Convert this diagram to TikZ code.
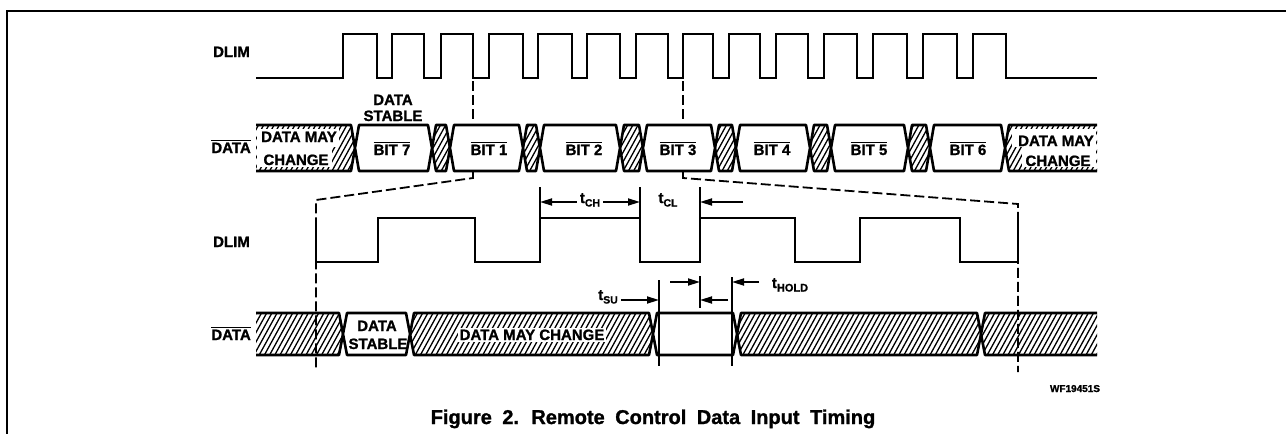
\documentclass[tikz,border=0pt]{standalone}
\usepackage{fontspec}
\setmainfont{Liberation Sans}[BoldFeatures={FakeBold=1.2}]
\usetikzlibrary{arrows.meta}
\newcommand\slnt{4}
\newcommand\ovl[1]{\setbox0\hbox{#1}\rlap{\rule[\dimexpr\ht0+1.6pt\relax]{\wd0}{1.4pt}}\box0}
\newcommand\tsb[2]{t\raisebox{-3.5pt}{\fontsize{#2}{#2}\selectfont #1}}
\newcommand\hexp[4]{({#1},{(#3+#4)/2}) -- ({#1+\slnt},#3) -- ({#2-\slnt},#3) -- ({#2},{(#3+#4)/2}) -- ({#2-\slnt},#4) -- ({#1+\slnt},#4) -- cycle}
\newcommand\hatchall[2]{\foreach \hx in {150,155.2,...,1110}{\draw[hatchline] (\hx,#2) -- ++({0.55*(#2-#1)},{#1-#2});}}
\newcommand\chg[4]{\begin{scope}\clip \hexp{#1}{#2}{#3}{#4};\hatchall{#3}{#4}\end{scope}\draw[band] \hexp{#1}{#2}{#3}{#4};}
\newcommand\stb[4]{\filldraw[band,fill=white] \hexp{#1}{#2}{#3}{#4};}
\newcommand\chgL[4]{\begin{scope}\clip (#1,#3) -- ({#2-\slnt},#3) -- (#2,{(#3+#4)/2}) -- ({#2-\slnt},#4) -- (#1,#4) -- cycle;\hatchall{#3}{#4}\end{scope}\draw[band] (#1,#3) -- ({#2-\slnt},#3) -- (#2,{(#3+#4)/2}) -- ({#2-\slnt},#4) -- (#1,#4);}
\newcommand\chgR[4]{\begin{scope}\clip (#2,#3) -- ({#1+\slnt},#3) -- (#1,{(#3+#4)/2}) -- ({#1+\slnt},#4) -- (#2,#4) -- cycle;\hatchall{#3}{#4}\end{scope}\draw[band] (#2,#3) -- ({#1+\slnt},#3) -- (#1,{(#3+#4)/2}) -- ({#1+\slnt},#4) -- (#2,#4);}
\begin{document}
\begin{tikzpicture}[x=1pt,y=-1pt,font=\fontsize{15}{16}\selectfont\bfseries,
  wave/.style={line width=2.8pt,line join=miter},
  band/.style={line width=2.6pt,line join=round},
  hatchline/.style={line width=1.3pt},
  zoomline/.style={line width=1.8pt,dash pattern=on 10pt off 4pt},
  tick/.style={line width=1.6pt},
  dimarrow/.style={line width=1.7pt,-{Triangle[length=12pt,width=7pt]}},
  lbl/.style={inner sep=0pt,anchor=base}]
\useasboundingbox (0,0) rectangle (1286,434);
% frame
\draw[line width=2pt] (7,434) -- (7,11) -- (1286,11);

% ---------- top DLIM ----------
\draw[wave] (256,78) \foreach \r/\f in {343/377,392/424,441/473,489/523,538/572,587/620,636/668,683/713,729/760,776/808,824/857,873/907,923/957,973/1006}{ -- (\r,78) -- (\r,34) -- (\f,34) -- (\f,78)} -- (1097,78);

% ---------- top DATA band ----------
\def\yt{125}\def\yb{171}
\chgL{256}{355}{\yt}{\yb}
\chg{432}{450}{\yt}{\yb}
\chg{523}{540}{\yt}{\yb}
\chg{620}{643}{\yt}{\yb}
\chg{715}{736}{\yt}{\yb}
\chg{810}{831}{\yt}{\yb}
\chg{908}{930}{\yt}{\yb}
\chgR{1005}{1097}{\yt}{\yb}
\stb{355}{432}{\yt}{\yb}
\stb{450}{523}{\yt}{\yb}
\stb{540}{620}{\yt}{\yb}
\stb{643}{715}{\yt}{\yb}
\stb{736}{810}{\yt}{\yb}
\stb{831}{908}{\yt}{\yb}
\stb{930}{1005}{\yt}{\yb}
\fill[white] (257,129) rectangle (339,147);
\fill[white] (257,147) rectangle (332,167);
\fill[white] (1012,129) rectangle (1096,147);
\fill[white] (1022,147) rectangle (1096,167);

\node[lbl] (dmcLa) at (299,142) {DATA MAY};
\node[lbl] (dmcLb) at (296,165) {CHANGE};
\node[lbl] (dmcRa) at (1056,146) {DATA MAY};
\node[lbl] (dmcRb) at (1058,166) {CHANGE};
\node[lbl] (dsA) at (393,105) {DATA};
\node[lbl] (dsB) at (393,121) {STABLE};
\node[lbl] (b7) at (392,155) {\ovl{BIT 7}};
\node[lbl] (b1) at (489,155) {\ovl{BIT 1}};
\node[lbl] (b2) at (584,155) {\ovl{BIT 2}};
\node[lbl] (b3) at (678,155) {\ovl{BIT 3}};
\node[lbl] (b4) at (772,155) {\ovl{BIT 4}};
\node[lbl] (b5) at (869,155) {\ovl{BIT 5}};
\node[lbl] (b6) at (968,155) {\ovl{BIT 6}};

\node[lbl,anchor=base east] (dlimA) at (250,57) {DLIM};
\node[lbl,anchor=base east] (dataA) at (251,153) {\ovl{DATA}};

% ---------- zoom lines ----------
\draw[zoomline] (473,81) -- (473,122);
\draw[zoomline] (683,81) -- (683,122);
\draw[zoomline] (473,172) -- (473,178) -- (316,200) -- (316,368);
\draw[zoomline] (683,172) -- (683,178) -- (1018,204) -- (1018,372);

% ---------- bottom DLIM ----------
\draw[wave] (316,218) -- (316,262) -- (378,262) -- (378,218) -- (475,218) -- (475,262) -- (540,262) -- (540,218) -- (640,218) -- (640,262) -- (700,262) -- (700,218) -- (795,218) -- (795,262) -- (860,262) -- (860,218) -- (960,218) -- (960,262) -- (1018,262) -- (1018,218);
\node[lbl,anchor=base east] (dlimB) at (250,247) {DLIM};

% tCH / tCL
\draw[tick] (540,187) -- (540,218);
\draw[tick] (640,187) -- (640,218);
\draw[tick] (700,187) -- (700,218);
\coordinate (chL) at (540,202);
\coordinate (chR) at (640,202);
\coordinate (clR) at (700,202);
\coordinate (clS) at (743,202);
\node[lbl,inner xsep=3pt] (tch) at (590,203) {\tsb{CH}{10.5}};
\node[lbl] (tcl) at (668,203) {\tsb{CL}{10.5}};
\draw[dimarrow] (tch.west |- chL) -- (chL);
\draw[dimarrow] (tch.east |- chR) -- (chR);
\draw[dimarrow] (clS) -- (clR);

% ---------- bottom DATA band ----------
\def\ytb{313}\def\ybb{355}
\chgL{256}{343}{\ytb}{\ybb}
\chg{410}{653}{\ytb}{\ybb}
\chg{737}{981}{\ytb}{\ybb}
\chgR{981}{1097}{\ytb}{\ybb}
\stb{343}{410}{\ytb}{\ybb}
\stb{653}{737}{\ytb}{\ybb}
\node[lbl,fill=white,inner sep=2pt] (dmcB) at (532,340) {DATA MAY CHANGE};
\node[lbl] (dsC) at (377,331) {DATA};
\node[lbl] (dsD) at (378,349) {STABLE};
\node[lbl,anchor=base east] (dataB) at (251,340) {\ovl{DATA}};

% tSU / tHOLD
\draw[tick] (659,280) -- (659,366);
\draw[tick] (700,276) -- (700,308);
\draw[tick] (732,277) -- (732,366);
\coordinate (suL) at (659,300);
\coordinate (suR) at (700,300);
\coordinate (suS) at (728,300);
\coordinate (hoL) at (700,282);
\coordinate (hoLS) at (670,282);
\coordinate (hoR) at (732,282);
\coordinate (hoRS) at (759,282);
\node[lbl,inner xsep=3pt] (tsu) at (608,300) {\tsb{SU}{10.5}};
\node[lbl] (thold) at (790,288) {\tsb{HOLD}{11}};
\draw[dimarrow] (tsu.east |- suL) -- (suL);
\draw[dimarrow] (suS) -- (suR);
\draw[dimarrow] (hoLS) -- (hoL);
\draw[dimarrow] (hoRS) -- (hoR);

% ---------- captions ----------
\node[lbl,font=\fontsize{10}{11}\selectfont\bfseries] (wf) at (1075,392) {WF19451S};
\node[lbl,font=\fontsize{20}{22}\selectfont\bfseries] (cap) at (653,424) {\spaceskip=10.5pt\relax Figure 2. Remote Control Data Input Timing};
\end{tikzpicture}
\end{document}
